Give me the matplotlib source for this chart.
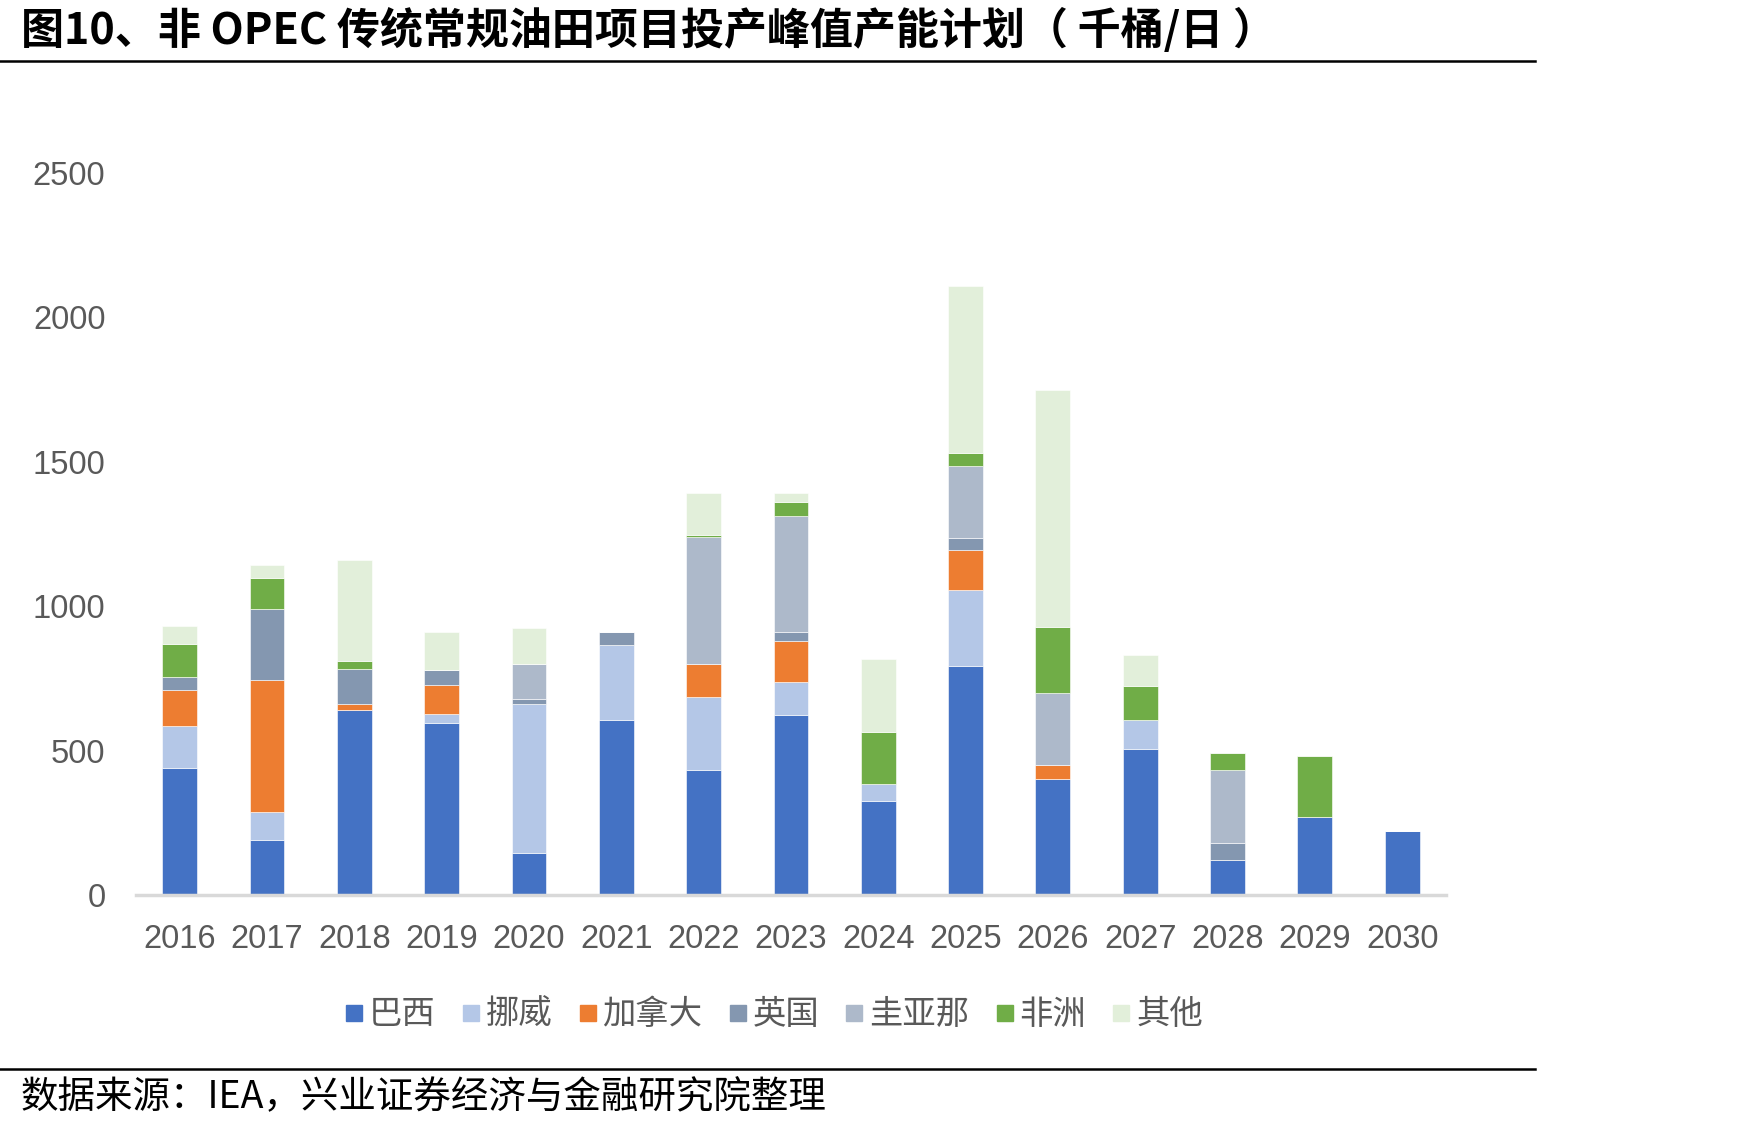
import numpy as np
import matplotlib
matplotlib.use("Agg")
import matplotlib.pyplot as plt
from matplotlib.lines import Line2D

plt.rcParams["font.family"] = ["Liberation Sans", "Noto Sans CJK SC", "DejaVu Sans"]

years = ["2016", "2017", "2018", "2019", "2020", "2021", "2022", "2023",
         "2024", "2025", "2026", "2027", "2028", "2029", "2030"]

brazil = [440, 190, 641, 596, 146, 606, 433, 624, 326, 793, 400, 506, 120, 271, 220]
norway = [145, 96, 0, 30, 515, 259, 252, 112, 58, 262, 0, 100, 0, 0, 0]
canada = [125, 459, 19, 100, 0, 0, 115, 144, 0, 141, 51, 0, 0, 0, 0]
uk = [45, 245, 121, 54, 18, 45, 0, 30, 0, 39, 0, 0, 61, 0, 0]
guyana = [0, 0, 0, 0, 121, 0, 440, 401, 0, 249, 247, 0, 250, 0, 0]
africa = [115, 108, 30, 0, 0, 0, 7, 49, 180, 47, 229, 119, 59, 209, 0]
other = [60, 46, 348, 131, 126, 0, 146, 30, 252, 577, 821, 106, 0, 0, 0]

series_names = ["巴西", "挪威", "加拿大", "英国", "圭亚那", "非洲", "其他"]
series_values = [brazil, norway, canada, uk, guyana, africa, other]
colors = ["#4472C4", "#B4C7E7", "#ED7D31", "#8497B0", "#ADB9CA", "#70AD47", "#E2EFDA"]


def main():
    fig = plt.figure(figsize=(17.48, 11.30), dpi=100)
    ax = fig.add_axes([0.0778, 0.208, 0.7494, 0.639])

    x = np.arange(len(years))
    bottom = np.zeros(len(years))
    handles = []
    for name, vals, col in zip(series_names, series_values, colors):
        vals = np.array(vals, dtype=float)
        ax.bar(x, vals, width=0.4, bottom=bottom, color=col,
               edgecolor="white", linewidth=0.4, zorder=2)
        bottom += vals
        handles.append(Line2D([], [], marker="s", linestyle="none",
                              markersize=11, color=col, label=name))

    ax.set_xlim(-0.5, len(years) - 0.5)
    ax.set_ylim(0, 2500)
    ax.set_yticks([0, 500, 1000, 1500, 2000, 2500])
    ax.set_xticks(x)
    ax.set_xticklabels(years)

    for side in ["top", "right", "left"]:
        ax.spines[side].set_visible(False)
    ax.spines["bottom"].set_color("#D9D9D9")
    ax.spines["bottom"].set_linewidth(2.5)

    ax.tick_params(axis="y", length=0, pad=22, labelsize=23.5, labelcolor="#595959")
    ax.tick_params(axis="x", length=0, pad=21, labelsize=23.5, labelcolor="#595959")

    fig.legend(handles=handles, loc="center", bbox_to_anchor=(0.443, 0.102),
               ncol=7, frameon=False, handlelength=0.5, handletextpad=0.2,
               columnspacing=0.8,
               prop={"family": ["Noto Sans CJK SC"], "size": 24},
               labelcolor="#595959")

    fig.text(0.012, 0.9726,
             "图10、非 OPEC 传统常规油田项目投产峰值产能计划（ 千桶/日 ）",
             fontsize=31, fontweight="bold", va="center", ha="left",
             family=["Noto Sans CJK SC", "DejaVu Sans"])
    fig.add_artist(Line2D([0, 0.878], [0.946, 0.946], color="black", linewidth=1.8))
    fig.add_artist(Line2D([0, 0.878], [0.054, 0.054], color="black", linewidth=1.8))
    fig.text(0.012, 0.0283, "数据来源：IEA，兴业证券经济与金融研究院整理",
             fontsize=27, va="center", ha="left",
             family=["Noto Sans CJK SC", "DejaVu Sans"])

    fig.savefig("out.png", dpi=100, facecolor="white")


if __name__ == "__main__":
    main()
